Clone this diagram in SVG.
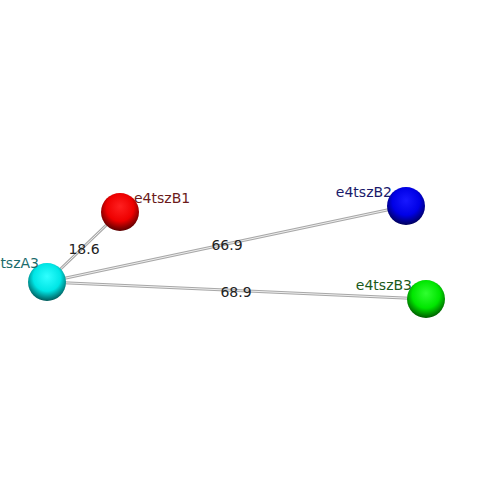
<svg xmlns="http://www.w3.org/2000/svg" width="500" height="500" viewBox="0 0 500 500">
<defs>
<radialGradient id="gr" cx="0.5" cy="0.4" r="0.6" fx="0.5" fy="0.35"><stop offset="0" stop-color="#ff2020"/><stop offset="0.6" stop-color="#ee0000"/><stop offset="1" stop-color="#5a0000"/></radialGradient>
<radialGradient id="gb" cx="0.5" cy="0.4" r="0.6" fx="0.5" fy="0.35"><stop offset="0" stop-color="#1818ff"/><stop offset="0.6" stop-color="#0000e6"/><stop offset="1" stop-color="#00005a"/></radialGradient>
<radialGradient id="gg" cx="0.5" cy="0.4" r="0.6" fx="0.5" fy="0.35"><stop offset="0" stop-color="#30ff30"/><stop offset="0.6" stop-color="#00e600"/><stop offset="1" stop-color="#005a00"/></radialGradient>
<radialGradient id="gc" cx="0.5" cy="0.4" r="0.6" fx="0.5" fy="0.35"><stop offset="0" stop-color="#30ffff"/><stop offset="0.6" stop-color="#00e6e6"/><stop offset="1" stop-color="#005a5a"/></radialGradient>
</defs>
<style>
.e1{stroke:#a8a8a8;stroke-width:3;fill:none}
.e2{stroke:#eeeeee;stroke-width:1;fill:none}
.el{font-family:"DejaVu Sans",sans-serif;font-size:14px;fill:#222}
.nl{font-family:"DejaVu Sans",sans-serif;font-size:14px}
</style>
<rect width="500" height="500" fill="#fff"/>
<g id="edges">
<line class="e1" x1="47" y1="282" x2="120" y2="212"/><line class="e2" x1="47" y1="282" x2="120" y2="212"/>
<line class="e1" x1="47" y1="282" x2="406" y2="206"/><line class="e2" x1="47" y1="282" x2="406" y2="206"/>
<line class="e1" x1="47" y1="282" x2="426" y2="299"/><line class="e2" x1="47" y1="282" x2="426" y2="299"/>
<text class="el" x="84" y="254" text-anchor="middle">18.6</text>
<text class="el" x="227" y="250" text-anchor="middle">66.9</text>
<text class="el" x="236" y="297" text-anchor="middle">68.9</text>
</g>
<g id="e4tszB1"><circle cx="120" cy="212" r="19" fill="url(#gr)"/><text class="nl" x="134" y="203" fill="#6b1a1a">e4tszB1</text></g>
<g id="e4tszB2"><circle cx="406" cy="206" r="19" fill="url(#gb)"/><text class="nl" x="392" y="197" text-anchor="end" fill="#1a1a6b">e4tszB2</text></g>
<g id="e4tszB3"><circle cx="426" cy="299" r="19" fill="url(#gg)"/><text class="nl" x="412" y="290" text-anchor="end" fill="#1a5a1a">e4tszB3</text></g>
<g id="e4tszA3"><circle cx="47" cy="282" r="19" fill="url(#gc)"/><text class="nl" x="39" y="268" text-anchor="end" fill="#1a6b6b">e4tszA3</text></g>
</svg>
